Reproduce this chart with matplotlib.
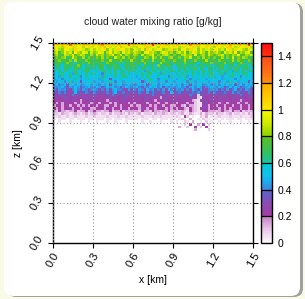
import numpy as np
import matplotlib
matplotlib.use("Agg")
import matplotlib.pyplot as plt
from matplotlib.colors import LinearSegmentedColormap
from matplotlib.patches import FancyBboxPatch

plt.rcParams['font.family'] = ['Liberation Sans', 'DejaVu Sans']

# cloud water field, one string per 20 m row from z=1.5 km downwards,
# one char per 20 m column, value = int(char, 36) * 0.05 g/kg
rows = [
    "kljmkiqkljkmilk" "jkmokljikmlkjqk" "lkjimklskjlkmij" "kmljkioklmjkilk" "jmkliknkjlmkisk",
    "jkihlkjmikjhkli" "kjilhkmjikhljki" "ihkjlmikjhkljik" "jkhiljkmihkjlki" "hkjiklmjhikjlkh",
    "ijhgkjihljkighj" "hjiklgjhiljkhig" "jihkgljhikjghil" "higjkhlijgkhijh" "jkhigjlhikjhgji",
    "hiegjhifkhgjiei" "ghjiehkgihfjhig" "ihgfjkhigehjigh" "fhigjehkigjhfig" "higejhigkfhgije",
    "ghfeihgjfgihefh" "figheghjfgiehgf" "hgeifghjegfhige" "gefhighfjeghfig" "fghiegfhgjefhgi",
    "fgeghdfigefhdgf" "egfhdgfeigfhegf" "gfdehgfigehfdgh" "efgdhgiefgdhfge" "gefhdgfiegfhgde",
    "efgdfegbhfedgfe" "dfegcfhdefgdfeh" "fedgefchdfegdfe" "gedfhecfgdefhdf" "edgfecfhdgfedge",
    "defcegdfbedfcge" "edfcdgefdcfbedf" "cfedgdefcdhefdc" "fdecgdfedbcfedg" "dfcegdfecdgfbed",
    "cedbfdecdgebdce" "dcefbdecfdbcedf" "ecdbfdceagdcefd" "bdecfdcebdfcdeb" "cdefbcdeafdcebd",
    "bdcaedcbfdcbedc" "cbdeacdbfcdbecd" "dcbedacfbdcebdc" "abdcebdcfbdcaed" "cbdebcdafcbdecb",
    "cbdaecbcdbacedb" "bcadebcbdacdbec" "dbca9ebcdbdacbe" "cbdaecbdbcaebdc" "bcdaecb9dcbeacd",
    "abcdbac9ebcadbc" "cba8dbcaebcdacb" "bcadbcebac9dbca" "acbdacbebcadbce" "bacd9cbeacbdcab",
    "ab9cbadbac8bcab" "bac9dbabcabdcba" "a9bcadbabcbab8c" "bacbd9acbabcadb" "cab9bacdab8bcab",
    "9ab8cabacb9abca" "ab9cab7babcabab" "ba9acbdab8abcba" "a9bacb8abcab9ab" "bab9caba8bcabab",
    "a9ab8ac9ba7abab" "9ab9abca8ab9bab" "aba79acab9ab8ba" "9abab8ca9abab9a" "ab8ab9cab9aba7a",
    "9a89a7ab9a89ab9" "a98a9b7a9ab89a9" "89a9a79ba8a9ab9" "a9a8b97a9ab89a8" "9a8a9b9a79a8a9a",
    "989a8798a9789a8" "8a978a9b8968a98" "9a8798a9b8a7989" "89a8979a8a9789a" "98a978a8b9789a8",
    "87989768a879878" "98786979a887697" "87986a8978796a8" "7989687a8797689" "89786978a687987",
    "76878657a767876" "87675868a768576" "76875968767856a" "678757687967685" "876785697867586",
    "657675685765476" "765647685756765" "567465786576576" "675654867267564" "756765647586576",
    "564657456546565" "654564756465746" "456475654635654" "564564756216456" "645565474656465",
    "455465465435465" "546453546456454" "465456453465645" "554645432175546" "456546454536454",
    "435345443534543" "543454353445435" "354543454354345" "435453452114745" "543543544354345",
    "344345344343534" "434533443534443" "433454343453443" "344325332115634" "435434434534434",
    "434344534434543" "344435434435434" "443543443454343" "434432432146534" "453434345434434",
    "324332334233423" "433233423342333" "332433243323342" "332321432124433" "323433243342323",
    "221322123212312" "321221312232132" "123122213223212" "212311321131322" "132212312212132",
    "112112112111211" "211112111211211" "111211121121111" "121042010021301" "112111211121112",
    "101110110111011" "011101101110111" "110111011011101" "101210300102110" "110101110110111",
    "001000100010010" "010001001000100" "000100100010001" "010021030010201" "001000100010010",
    "000000000000000" "000000000000000" "000000000000000" "000020400305020" "000000000000000",
    "000000000000000" "000000000000000" "000000000000000" "003002004020400" "000000000000000",
    "000000000000000" "000000000000000" "000000000000000" "000000003000020" "000000000000000",
]
ticks = [0.0, 0.3, 0.6, 0.9, 1.2, 1.5]
cb_ticks = [0, 0.2, 0.4, 0.6, 0.8, 1.0, 1.2, 1.4]
cb_labels = ["0", "0.2", "0.4", "0.6", "0.8", "1", "1.2", "1.4"]

qc = np.array([[int(c, 36) * 0.05 for c in r] for r in rows])
qc = np.ma.masked_equal(qc, 0)
dx = 0.02
x_edges = dx * np.arange(qc.shape[1] + 1)
z_edges = 1.5 - dx * np.arange(qc.shape[0] + 1)

# gnuplot-like palette, with jumps at the 0.2 steps
e = 0.001 / 1.5
stops = [
    (0.0, '#fdf8fd'), (0.1 / 1.5, '#e8c8e8'), (0.2 / 1.5 - e, '#c680c6'),
    (0.2 / 1.5, '#a43ea4'), (0.3 / 1.5, '#8a4cb4'), (0.4 / 1.5 - e, '#5666cc'),
    (0.4 / 1.5, '#3c86e2'), (0.5 / 1.5, '#10bff0'), (0.6 / 1.5 - e, '#08c8d0'),
    (0.6 / 1.5, '#18c4a4'), (0.7 / 1.5, '#3cc050'), (0.8 / 1.5 - e, '#5cc020'),
    (0.8 / 1.5, '#88d000'), (0.9 / 1.5, '#d0ec00'), (1.0 / 1.5 - e, '#f8f800'),
    (1.0 / 1.5, '#ffe800'), (1.1 / 1.5, '#ffc800'), (1.2 / 1.5 - e, '#ffaa00'),
    (1.2 / 1.5, '#ff9010'), (1.3 / 1.5, '#ff6a18'), (1.4 / 1.5 - e, '#ff4c18'),
    (1.4 / 1.5, '#ff3210'), (1.0, '#ff1010'),
]
cmap = LinearSegmentedColormap.from_list('gp', stops)

fig = plt.figure(figsize=(3.05, 2.99), dpi=100, facecolor='#fafae8')

# white rounded panel with a grey shadow on the right
W, H = 305.0, 299.0
shadow = FancyBboxPatch((7 / W, 2 / H), 296 / W, 294 / H, boxstyle="round,pad=0,rounding_size=0.03",
                        transform=fig.transFigure, facecolor='#a0a0a0', edgecolor='none', zorder=-2)
panel = FancyBboxPatch((4 / W, 3 / H), 296 / W, 294 / H, boxstyle="round,pad=0,rounding_size=0.03",
                       transform=fig.transFigure, facecolor='white', edgecolor='none', zorder=-1)
fig.patches.extend([shadow, panel])

ax = fig.add_axes([53 / W, 1 - 243 / H, 200 / W, 200 / H])
ax.set_zorder(2)
mesh = ax.pcolormesh(x_edges, z_edges, qc, cmap=cmap, vmin=0, vmax=1.5, shading='flat')
ax.set_xlim(0, 1.5)
ax.set_ylim(0, 1.5)
ax.set_xticks(ticks)
ax.set_yticks(ticks)
ax.set_xticklabels([f"{t:.1f}" for t in ticks], rotation=60, ha='center', va='top')
ax.set_yticklabels([f"{t:.1f}" for t in ticks], rotation=60, ha='right', va='center')
ax.tick_params(direction='out', length=3.5, width=0.8, labelsize=8, top=True, right=True,
               colors='black', pad=2)
ax.set_axisbelow(False)
ax.grid(True, linestyle=(0, (1, 2)), color='#999999', linewidth=0.8)
for s in ax.spines.values():
    s.set_linewidth(1.0)
ax.set_xlabel("x [km]", fontsize=7.5, labelpad=4)
ax.set_ylabel("z [km]", fontsize=7.5, labelpad=4)
ax.set_title("cloud water mixing ratio [g/kg]", fontsize=7.5, pad=13, color='#222222')

cax = fig.add_axes([261 / W, 1 - 243 / H, 11 / W, 200 / H])
cax.set_zorder(2)
cb = fig.colorbar(mesh, cax=cax)
cb.set_ticks(cb_ticks)
cb.set_ticklabels(cb_labels)
cb.ax.tick_params(length=0, pad=4, labelsize=7.5)
cb.outline.set_linewidth(1.0)
for t in cb_ticks[1:]:
    cb.ax.axhline(t, color='black', linewidth=0.9)

fig.savefig("out.png", dpi=100, facecolor=fig.get_facecolor())
